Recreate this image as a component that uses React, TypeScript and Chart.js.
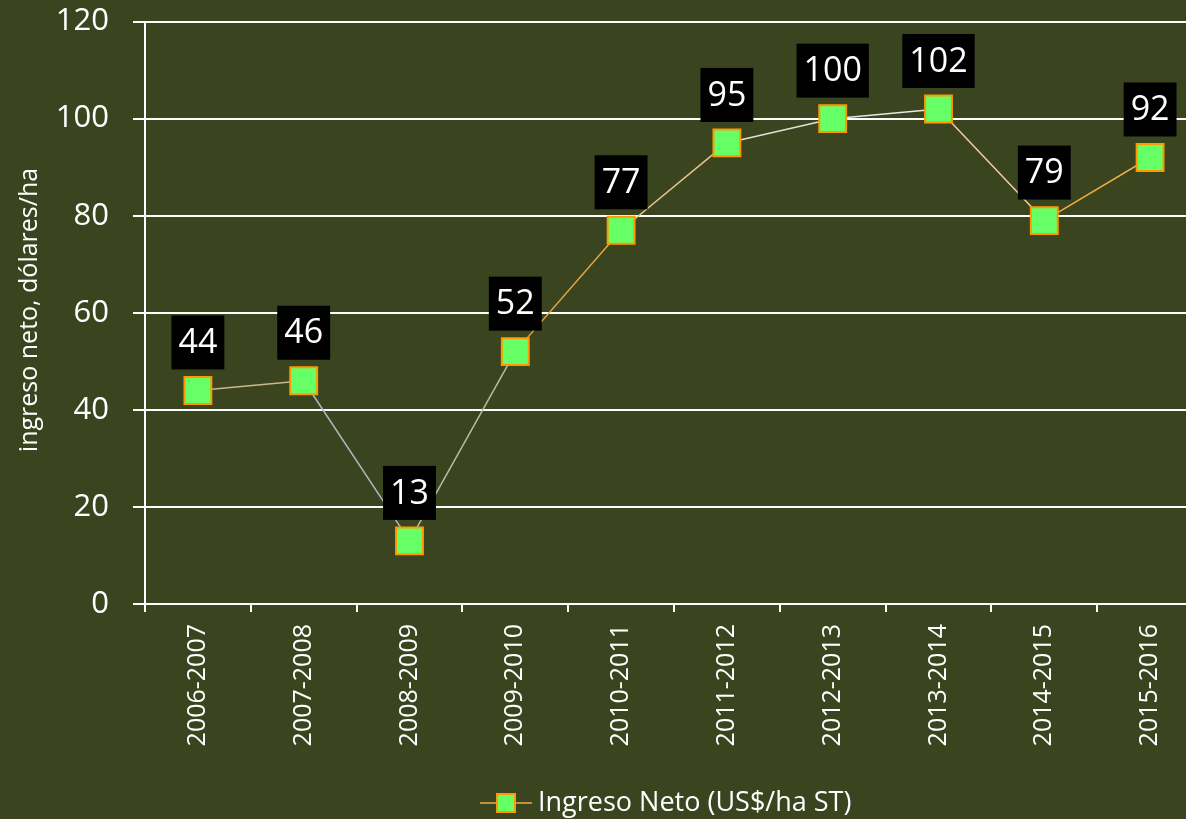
import React, { useEffect, useRef } from "react";
import { Chart, registerables } from "chart.js";

Chart.register(...registerables);

const categories = [
  "2006-2007", "2007-2008", "2008-2009", "2009-2010", "2010-2011",
  "2011-2012", "2012-2013", "2013-2014", "2014-2015", "2015-2016",
];
const ingresoNeto = [44, 46, 13, 52, 77, 95, 100, 102, 79, 92];
const yTicks = [0, 20, 40, 60, 80, 100, 120];
const seriesLabel = "Ingreso Neto (US$/ha ST)";
const yTitle = "ingreso neto, dólares/ha";

const BG = "#3a451f";
const FONT = "'Open Sans', 'DejaVu Sans', sans-serif";
const segColors = [
  "#cdb88e", "#a9b9c6", "#bdb9a8", "#e8a743", "#e9c68f",
  "#e2e0d8", "#e6e6e6", "#efcf9e", "#eeac45",
];

const SHIFT = 21;
const CANVAS_W = 1224;
const CANVAS_H = 819 + SHIFT;

const overlayPlugin = {
  id: "overlay",
  afterDatasetsDraw(chart: any) {
    const ctx = chart.ctx;
    const meta = chart.getDatasetMeta(0);
    ctx.save();
    ctx.font = `34px ${FONT}`;
    ctx.textAlign = "center";
    ctx.textBaseline = "middle";
    meta.data.forEach((pt: any, i: number) => {
      const txt = String(ingresoNeto[i]);
      const w = ctx.measureText(txt).width + 14;
      const h = 54;
      const cx = pt.x;
      const cy = pt.y - 48;
      ctx.fillStyle = "#000000";
      ctx.fillRect(cx - w / 2, cy - h / 2, w, h);
      ctx.fillStyle = "#ffffff";
      ctx.fillText(txt, cx, cy + 1);
    });
    ctx.restore();
  },
  afterDraw(chart: any) {
    const ctx = chart.ctx;
    ctx.save();
    ctx.translate(30, 310 + SHIFT);
    ctx.rotate(-Math.PI / 2);
    ctx.font = `25px ${FONT}`;
    ctx.fillStyle = "#ffffff";
    ctx.textAlign = "center";
    ctx.textBaseline = "middle";
    ctx.fillText(yTitle, 0, 0);
    ctx.restore();

    ctx.save();
    const ly = 803 + SHIFT;
    ctx.strokeStyle = "#eeac45";
    ctx.lineWidth = 1.5;
    ctx.beginPath();
    ctx.moveTo(480, ly);
    ctx.lineTo(532, ly);
    ctx.stroke();
    ctx.fillStyle = "#66ff66";
    ctx.fillRect(497, ly - 9, 18, 18);
    ctx.strokeStyle = "#ff9900";
    ctx.lineWidth = 2;
    ctx.strokeRect(497, ly - 9, 18, 18);
    ctx.font = `27px ${FONT}`;
    ctx.fillStyle = "#ffffff";
    ctx.textAlign = "left";
    ctx.textBaseline = "middle";
    ctx.fillText(seriesLabel, 538, ly);
    ctx.restore();
  },
};

export default function App() {
  const ref = useRef<HTMLCanvasElement>(null);

  useEffect(() => {
    if (!ref.current) return;
    const chart = new Chart(ref.current, {
      type: "line",
      data: {
        labels: categories,
        datasets: [
          {
            label: seriesLabel,
            data: ingresoNeto,
            borderColor: "#eeac45",
            borderWidth: 1.5,
            pointStyle: "rect",
            pointRadius: 19,
            pointHoverRadius: 19,
            pointBackgroundColor: "#66ff66",
            pointBorderColor: "#ff9900",
            pointBorderWidth: 2,
            fill: false,
            tension: 0,
            segment: {
              borderColor: (c: any) => segColors[c.p0DataIndex],
            },
          },
        ],
      },
      options: {
        responsive: false,
        animation: false,
        devicePixelRatio: 1,
        layout: { padding: { top: 1, right: 12, bottom: 0, left: 0 } },
        plugins: {
          legend: { display: false },
          tooltip: { enabled: false },
        },
        scales: {
          x: {
            offset: true,
            grid: {
              display: true,
              offset: true,
              drawOnChartArea: false,
              drawTicks: true,
              tickLength: 8,
              color: "#ffffff",
              lineWidth: 2,
            },
            border: { display: true, color: "#ffffff", width: 2 },
            ticks: {
              color: "#ffffff",
              font: { family: FONT, size: 25 },
              maxRotation: 90,
              minRotation: 90,
              padding: 12,
              autoSkip: false,
            },
            afterFit: (s: any) => {
              s.height = 215;
            },
          },
          y: {
            min: 0,
            max: 120,
            afterBuildTicks: (s: any) => {
              s.ticks = yTicks.map((v) => ({ value: v }));
            },
            grid: {
              display: true,
              color: "#ffffff",
              lineWidth: 2,
              drawTicks: true,
              tickLength: 12,
            },
            border: { display: true, color: "#ffffff", width: 2 },
            ticks: {
              color: "#ffffff",
              font: { family: FONT, size: 31 },
              padding: 24,
            },
            afterFit: (s: any) => {
              s.width = 145;
            },
          },
        },
      },
      plugins: [overlayPlugin],
    });
    return () => chart.destroy();
  }, []);

  return (
    <div
      style={{
        position: "fixed",
        left: 0,
        top: 0,
        width: 1186,
        height: 819,
        overflow: "hidden",
        background: BG,
      }}
    >
      <canvas
        ref={ref}
        width={CANVAS_W}
        height={CANVAS_H}
        style={{
          display: "block",
          width: CANVAS_W,
          height: CANVAS_H,
          marginTop: -SHIFT,
        }}
      />
    </div>
  );
}
